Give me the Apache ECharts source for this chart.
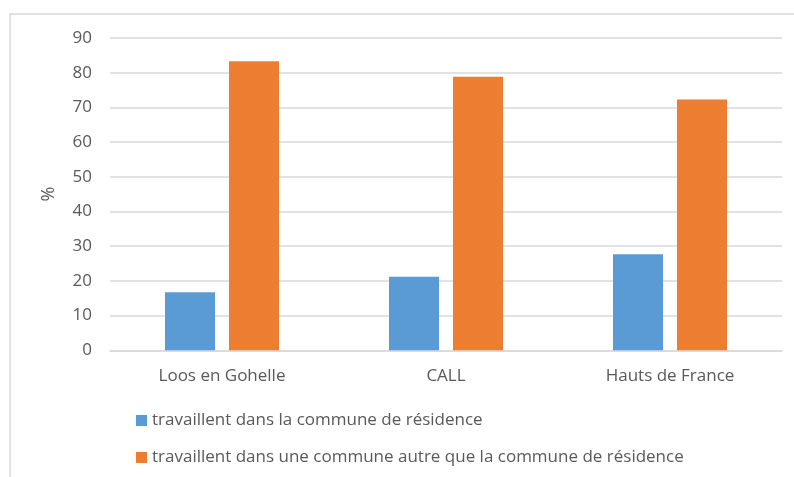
<!DOCTYPE html>
<html>
<head>
<meta charset="utf-8">
<script src="https://cdn.jsdelivr.net/npm/echarts@6/dist/echarts.min.js"></script>
<style>
  html, body { margin: 0; padding: 0; background: #fff; }
  #chart { width: 794px; height: 477px; }
</style>
</head>
<body>
<div id="chart"></div>
<script>
  // données
  var categories = ['Loos en Gohelle', 'CALL', 'Hauts de France'];
  var seriesNames = [
    'travaillent dans la commune de résidence',
    'travaillent dans une commune autre que la commune de résidence'
  ];
  var dansCommune = [16.7, 21.2, 27.7];
  var autreCommune = [83.3, 78.8, 72.3];
  var yTicks = [0, 10, 20, 30, 40, 50, 60, 70, 80, 90];

  var font = '"Open Sans", "Noto Sans", sans-serif';
  var textColor = '#595959';

  var chart = echarts.init(document.getElementById('chart'));
  chart.setOption({
    animation: false,
    textStyle: { fontFamily: font },
    graphic: [{
      type: 'rect',
      shape: { x: 10, y: 14, width: 800, height: 480 },
      style: { fill: 'none', stroke: '#d9d9d9', lineWidth: 1.5 },
      silent: true
    }],
    grid: { left: 110, right: 12, top: 38, height: 312.3, containLabel: false },
    legend: {
      orient: 'vertical',
      left: 131,
      top: 407,
      itemWidth: 11,
      itemHeight: 11,
      itemGap: 20,
      icon: 'rect',
      textStyle: { color: textColor, fontSize: 17, fontFamily: font },
      data: seriesNames
    },
    xAxis: {
      type: 'category',
      data: categories,
      axisLine: { lineStyle: { color: '#d9d9d9', width: 1.5 } },
      axisTick: { show: false },
      axisLabel: { color: textColor, fontSize: 17, margin: 17 }
    },
    yAxis: {
      type: 'value',
      min: yTicks[0],
      max: yTicks[yTicks.length - 1],
      interval: 10,
      name: '%',
      nameLocation: 'middle',
      nameGap: 52,
      nameRotate: 90,
      nameTextStyle: { color: textColor, fontSize: 18 },
      axisLine: { show: false },
      axisTick: { show: false },
      splitLine: { lineStyle: { color: '#d9d9d9', width: 1.5 } },
      axisLabel: { color: textColor, fontSize: 17, margin: 18 }
    },
    series: [
      {
        name: seriesNames[0],
        type: 'bar',
        data: dansCommune,
        barWidth: 50,
        barGap: '28%',
        itemStyle: { color: '#5b9bd5' }
      },
      {
        name: seriesNames[1],
        type: 'bar',
        data: autreCommune,
        barWidth: 50,
        itemStyle: { color: '#ed7d31' }
      }
    ]
  });
</script>
</body>
</html>
